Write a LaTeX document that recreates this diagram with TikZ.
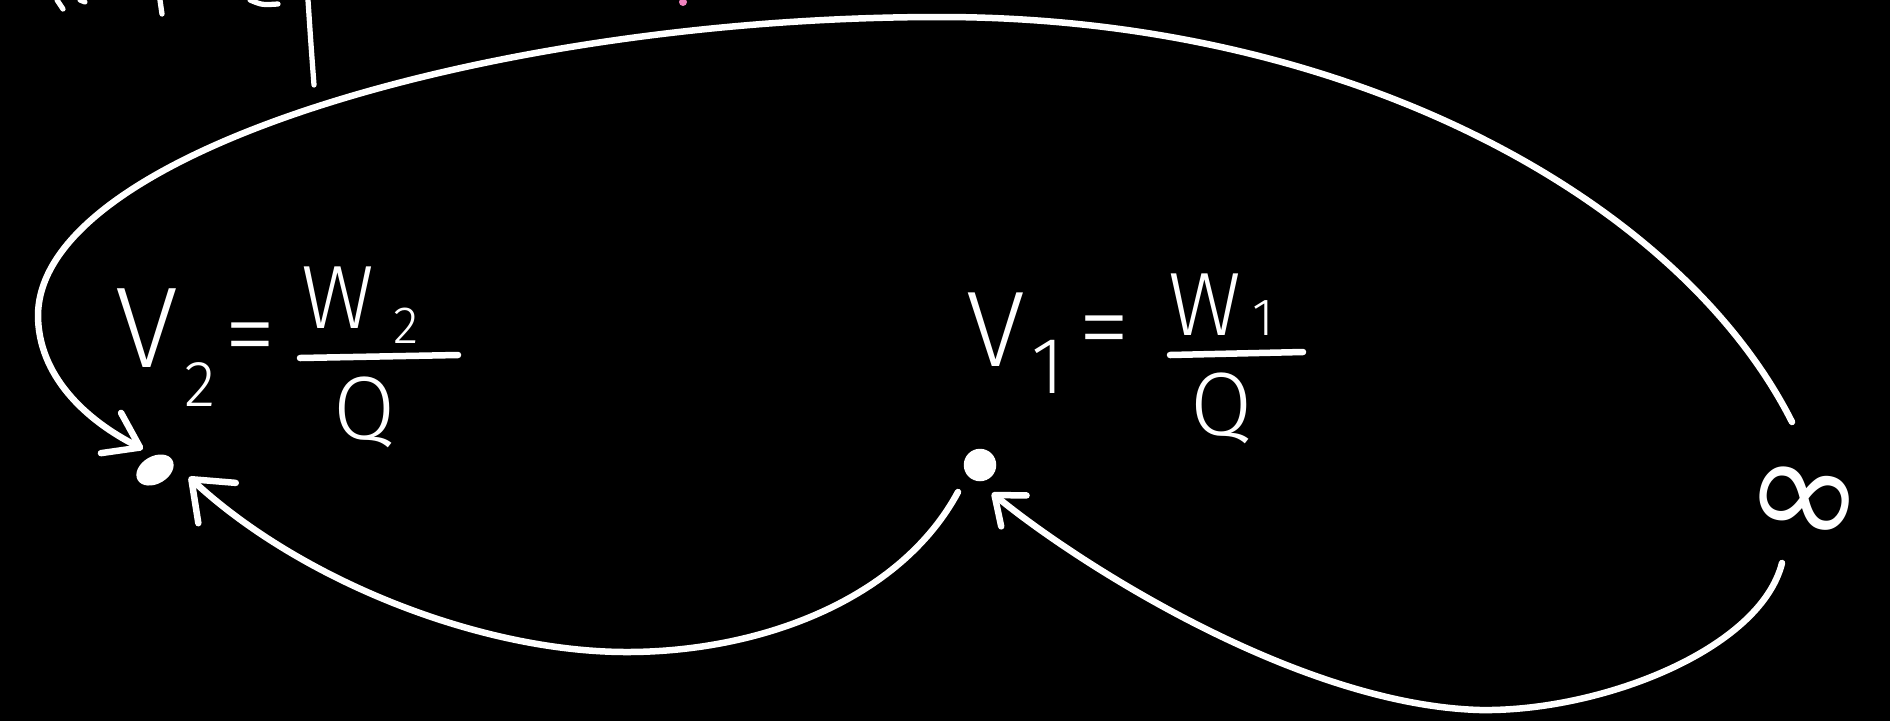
\documentclass[tikz,border=0pt]{standalone}
\usepackage{fontspec}
\setmainfont{Fira Sans}[UprightFont=* Light]
\newfontfamily\symfont{DejaVu Sans}
\usetikzlibrary{arrows.meta,shapes.geometric}
\definecolor{penpink}{RGB}{240,130,190}
\begin{document}
\begin{tikzpicture}[x=0.4pt,y=-0.4pt,
  ink/.style={white, line width=2.6pt, line cap=round, line join=round},
  thinink/.style={white, line width=2.1pt, line cap=round, line join=round},
  lbl/.style={text=white, inner sep=0pt, outer sep=0pt, anchor=center},
  bigV/.style={lbl, font=\fontsize{46}{46}\selectfont},
  midV/.style={lbl, font=\fontsize{43}{43}\selectfont},
  eqs/.style={lbl, font=\fontsize{42}{42}\selectfont},
  numf/.style={lbl, font=\fontsize{36}{36}\selectfont},
  subs/.style={lbl, font=\fontsize{26}{26}\selectfont},
  subone/.style={lbl, font=\fontsize{32}{32}\selectfont},
  subn/.style={lbl, font=\fontsize{21}{21}\selectfont},
  tipA/.style={-{Straight Barb[length=13pt,width=18pt,round]}},
  tipB/.style={-{Straight Barb[length=14pt,width=22pt,round]}},
  tipC/.style={-{Straight Barb[length=10pt,width=16pt,round]}}
]
\fill[black] (0,0) rectangle (1890,721);
\useasboundingbox (0,0) rectangle (1890,721);

% fragments of handwriting cut by the top edge
\draw[thinink] (57,0) -- (63,9);
\draw[thinink] (80,0) -- (85,2);
\draw[thinink] (160,0) -- (162,14);
\draw[thinink] (250,0) .. controls (262,5) .. (278,4);
\draw[thinink] (308,0) .. controls (311,45) .. (314,85);
\fill[penpink] (683,2) circle (4);

% label V2
\node[bigV] (v2V) at (147,328) {V};
\node[subs] (v2s) at (200,385) {2};
\node[eqs] (v2eq) at (250,346) {=};
\node[numf] (v2W) at (338,298) {W};
\node[subn] (v2Ws) at (406,326) {2};
\coordinate (v2b1) at (300,358);
\coordinate (v2b2) at (458,355);
\draw[ink] (v2b1) -- (v2b2);
\node[numf] (v2Q) at (365,412) {Q};

% label V1
\node[midV] (v1V) at (996,330) {V};
\node[subone] (v1s) at (1048,367) {1};
\node[eqs] (v1eq) at (1104,339) {=};
\node[numf] (v1W) at (1205,305) {W};
\node[subn] (v1Ws) at (1263,318) {1};
\coordinate (v1b1) at (1170,355);
\coordinate (v1b2) at (1303,352);
\draw[ink] (v1b1) -- (v1b2);
\node[numf] (v1Q) at (1222,408) {Q};

% points
\node[ellipse, fill=white, inner sep=0pt, minimum width=16pt, minimum height=11pt, rotate=30] (v2dot) at (155,470) {};
\node[circle, fill=white, inner sep=0pt, minimum size=13pt] (v1dot) at (980,465) {};
\node[lbl, font=\symfont\fontsize{58}{58}\selectfont, rotate=-12] (inf) at (1803,507) {∞};

% connector ends
\coordinate (infTop) at (1792,422);
\coordinate (infBot) at (1782,563);
\coordinate (t2a) at (143,449);
\coordinate (t2b) at (189,477);
\coordinate (s1) at (958,492);
\coordinate (t1) at (992,493);
\coordinate (topmid) at (940,17);
\coordinate (leftmid) at (38,315);
\coordinate (botL) at (627,652);
\coordinate (botR) at (1480,710);

% big arc from infinity to V2
\draw[ink, tipA] (infTop) .. controls (1680,200) and (1350,17) .. (topmid)
  .. controls (500,17) and (40,150) .. (leftmid)
  .. controls (38,375) and (85,420) .. (t2a);
% from V1 to V2
\draw[ink, tipB] (s1) .. controls (900,600) and (760,652) .. (botL)
  .. controls (480,652) and (300,580) .. (t2b);
% from infinity to V1
\draw[ink, tipC] (infBot) .. controls (1760,650) and (1600,712) .. (botR)
  .. controls (1300,705) and (1080,565) .. (t1);
\end{tikzpicture}
\end{document}
